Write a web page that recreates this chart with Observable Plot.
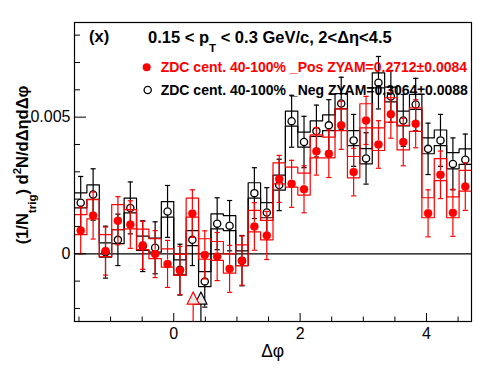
<!DOCTYPE html>
<html><head><meta charset="utf-8">
<script src="https://cdn.jsdelivr.net/npm/d3@7"></script>
<script src="https://cdn.jsdelivr.net/npm/@observablehq/plot@0.6"></script>
<style>html,body{margin:0;padding:0;background:#fff;} svg{display:block}</style>
</head><body><div id="chart"></div>
<script>
// ---- data ----
const dphi = [-1.4726,-1.2763,-1.0799,-0.8836,-0.6872,-0.4909,-0.2945,-0.0982,0.0982,0.2945,0.4909,0.6872,0.8836,1.0799,1.2763,1.4726,1.6690,1.8653,2.0617,2.2580,2.4544,2.6507,2.8471,3.0434,3.2398,3.4361,3.6325,3.8288,4.0252,4.2215,4.4179,4.6142];
const binHalfWidth = 0.098175;

const posY     = [0.00085,0.00140,0.00010,0.00121,0.00107,0.00031,-0.00001,-0.00037,-0.00061,0.00147,-0.00004,-0.00010,-0.00055,-0.00025,0.00100,0.00067,0.00274,0.00256,0.00236,0.00375,0.00366,0.00470,0.00299,0.00488,0.00400,0.00511,0.00409,0.00476,0.00148,0.00289,0.00150,0.00246];
const posErr   = [0.00085,0.00086,0.00088,0.00088,0.00087,0.00088,0.00086,0.00086,0.00088,0.00087,0.00088,0.00088,0.00086,0.00090,0.00087,0.00088,0.00086,0.00086,0.00086,0.00087,0.00087,0.00088,0.00087,0.00088,0.00087,0.00088,0.00087,0.00088,0.00086,0.00087,0.00086,0.00087];
const posSysHi = [0.00143,0.00198,0.00070,0.00180,0.00162,0.00090,0.00055,0.00018,-0.00002,0.00204,0.00055,0.00045,0.00000,0.00033,0.00159,0.00122,0.00333,0.00317,0.00295,0.00435,0.00427,0.00530,0.00356,0.00549,0.00461,0.00571,0.00470,0.00534,0.00205,0.00348,0.00208,0.00305];
const posSysLo = [0.00070,0.00128,-0.00010,0.00088,0.00091,0.00015,-0.00018,-0.00049,-0.00079,0.00134,-0.00020,-0.00024,-0.00071,-0.00043,0.00080,0.00051,0.00256,0.00244,0.00215,0.00351,0.00351,0.00451,0.00278,0.00461,0.00378,0.00482,0.00380,0.00448,0.00132,0.00268,0.00132,0.00229];

const negY     = [0.00187,0.00217,0.00006,0.00051,0.00168,0.00028,0.00022,0.00155,-0.00058,0.00051,-0.00101,0.00110,0.00103,-0.00025,0.00222,0.00151,0.00252,0.00485,0.00409,0.00449,0.00470,0.00550,0.00415,0.00349,0.00626,0.00576,0.00488,0.00546,0.00384,0.00415,0.00329,0.00344];
const negErr   = [0.00096,0.00094,0.00095,0.00094,0.00095,0.00093,0.00095,0.00095,0.00093,0.00094,0.00094,0.00095,0.00092,0.00092,0.00093,0.00091,0.00094,0.00095,0.00094,0.00095,0.00094,0.00096,0.00095,0.00094,0.00096,0.00095,0.00095,0.00096,0.00094,0.00095,0.00095,0.00094];
const negSysHi = [0.00223,0.00252,0.00040,0.00088,0.00204,0.00065,0.00057,0.00191,-0.00022,0.00085,-0.00065,0.00146,0.00140,0.00011,0.00260,0.00187,0.00288,0.00522,0.00445,0.00486,0.00508,0.00586,0.00451,0.00385,0.00662,0.00610,0.00522,0.00583,0.00424,0.00453,0.00370,0.00384];
const negSysLo = [0.00168,0.00199,-0.00012,0.00037,0.00150,0.00012,0.00006,0.00134,-0.00077,0.00030,-0.00120,0.00091,0.00085,-0.00043,0.00204,0.00132,0.00233,0.00467,0.00390,0.00430,0.00451,0.00530,0.00396,0.00329,0.00607,0.00556,0.00468,0.00528,0.00366,0.00396,0.00311,0.00327];

// ZYAM minimum positions (triangle markers)
const zyamDphi  = [0.43, 0.307];   // [Neg, Pos]
const zyamLevel = [-0.00162, -0.00162];

// axis ranges and ticks
const xDomain = [-Math.PI / 2, 3 * Math.PI / 2];
const yDomain = [-0.002477, 0.008463];
const xMajor = [0, 2, 4];
const xMinor = [-1.5, -1, -0.5, 0.5, 1, 1.5, 2.5, 3, 3.5, 4.5];
const yMajor = [0, 0.005];
const yMinor = [-0.002, -0.001, 0.001, 0.002, 0.003, 0.004, 0.006, 0.007, 0.008];
const yTickLabels = ["0", "0.005"];
const xTickLabels = ["0", "2", "4"];

// ---- tables built from the arrays ----
const rows = (ys, errs) => dphi.map((x, i) => ({dphi: x, y: ys[i], err: errs[i]}));
const stepRows = (vals) => dphi.map((x, i) => ({x: x - binHalfWidth, y: vals[i]}))
  .concat([{x: dphi[dphi.length - 1] + binHalfWidth, y: vals[vals.length - 1]}]);
const posRows = rows(posY, posErr);
const negRows = rows(negY, negErr);

const capSym = {draw(ctx) { ctx.moveTo(-2.6, 0); ctx.lineTo(2.6, 0); }};
const triSym = {draw(ctx) { ctx.moveTo(0, -6); ctx.lineTo(6, 6); ctx.lineTo(-6, 6); ctx.closePath(); }};

function seriesMarks(data, hi, lo, color, markerR, filled) {
  return [
    Plot.line(stepRows(hi), {x: "x", y: "y", curve: "step-after", stroke: color, strokeWidth: 1.2}),
    Plot.line(stepRows(lo), {x: "x", y: "y", curve: "step-after", stroke: color, strokeWidth: 1.2}),
    Plot.ruleX(data, {x: "dphi", y1: d => d.y + d.err, y2: "y", insetBottom: markerR, stroke: color, strokeWidth: 1.2}),
    Plot.ruleX(data, {x: "dphi", y1: "y", y2: d => d.y - d.err, insetTop: markerR, stroke: color, strokeWidth: 1.2}),
    Plot.dot(data, {x: "dphi", y: d => d.y + d.err, symbol: capSym, stroke: color, fill: "none", strokeWidth: 1.2}),
    Plot.dot(data, {x: "dphi", y: d => d.y - d.err, symbol: capSym, stroke: color, fill: "none", strokeWidth: 1.2}),
    filled
      ? Plot.dot(data, {x: "dphi", y: "y", r: markerR, fill: color, stroke: color, strokeWidth: 0.5})
      : Plot.dot(data, {x: "dphi", y: "y", r: markerR, fill: "none", stroke: color, strokeWidth: 1.3})
  ];
}

const plotW = 496 - 74 - 25, plotH = 374 - 22 - 53;
const font = "'Liberation Sans', Arial, Helvetica, sans-serif";

const chart = Plot.plot({
  width: 496, height: 374,
  marginLeft: 74, marginRight: 25, marginTop: 22, marginBottom: 53,
  style: {fontFamily: font, background: "white", color: "black"},
  x: {domain: xDomain},
  y: {domain: yDomain},
  marks: [
    Plot.ruleY([0], {stroke: "black", strokeWidth: 1.2}),
    ...seriesMarks(negRows, negSysHi, negSysLo, "black", 3.6, false),
    ...seriesMarks(posRows, posSysHi, posSysLo, "#ff0000", 4, true),
    // ZYAM markers
    Plot.ruleX([0], {x: () => zyamDphi[0], y1: () => zyamLevel[0], y2: yDomain[0], stroke: "black", strokeWidth: 1.2}),
    Plot.dot([0], {x: () => zyamDphi[0], y: () => zyamLevel[0], symbol: triSym, stroke: "black", fill: "#eaeaea", strokeWidth: 1.2}),
    Plot.ruleX([0], {x: () => zyamDphi[1], y1: () => zyamLevel[1], y2: yDomain[0], stroke: "#ff0000", strokeWidth: 1.2}),
    Plot.dot([0], {x: () => zyamDphi[1], y: () => zyamLevel[1], symbol: triSym, stroke: "#ff0000", fill: "#eaeaea", strokeWidth: 1.2}),
    // inward ticks
    Plot.tickY(yMajor, {y: d => d, insetRight: plotW - 12, stroke: "black"}),
    Plot.tickY(yMinor, {y: d => d, insetRight: plotW - 6, stroke: "black"}),
    Plot.tickX(xMajor, {x: d => d, insetTop: plotH - 8, stroke: "black"}),
    Plot.tickX(xMinor, {x: d => d, insetTop: plotH - 4.5, stroke: "black"}),
    Plot.axisY(yMajor, {tickSize: 0, tickPadding: 4, tickFormat: (d, i) => yTickLabels[i], fontSize: 16, label: null}),
    Plot.axisX(xMajor, {tickSize: 0, tickPadding: 6, tickFormat: (d, i) => xTickLabels[i], fontSize: 16, label: null}),
    Plot.frame({stroke: "black", strokeWidth: 1.2})
  ]
});

// force axis tick-label font size
d3.select(chart).selectAll('[aria-label="y-axis tick label"], [aria-label="x-axis tick label"]')
  .attr("font-size", 16).selectAll("text").attr("font-size", 16);

// ---- texts with sub/superscripts ----
const svg = d3.select(chart);
const g = svg.append("g").attr("font-family", font);
function richText(opts, parts) {
  const t = g.append("text")
    .attr("x", opts.x ?? 0).attr("y", opts.y ?? 0)
    .attr("font-size", opts.size).attr("font-weight", opts.weight || "normal")
    .attr("fill", opts.fill || "black").attr("text-anchor", opts.anchor || "start");
  if (opts.transform) t.attr("transform", opts.transform);
  let shift = 0;
  parts.forEach(p => {
    const s = typeof p === "string" ? {t: p} : p;
    let target = 0, fs = opts.size;
    if (s.sub) { target = 0.5 * opts.size; fs = 0.7 * opts.size; }
    if (s.sup) { target = -0.42 * opts.size; fs = 0.7 * opts.size; }
    t.append("tspan").attr("dy", target - shift).attr("font-size", fs).text(s.t);
    shift = target;
  });
  return t;
}

richText({x: 89, y: 42.3, size: 16.5, weight: "bold"}, ["(x)"]);
richText({x: 148, y: 43.3, size: 16.5, weight: "bold"},
  ["0.15 < p", {t: "T", sub: true}, " < 0.3 GeV/c, 2<Δη<4.5"]);

// legend
g.append("circle").attr("cx", 146.7).attr("cy", 67.3).attr("r", 4).attr("fill", "#ff0000");
richText({x: 160.7, y: 72.3, size: 14, weight: "bold", fill: "#ff0000"},
  ["ZDC cent. 40-100% _Pos ZYAM=0.2712±0.0084"]);
g.append("circle").attr("cx", 147.7).attr("cy", 90).attr("r", 3.6).attr("fill", "none")
  .attr("stroke", "black").attr("stroke-width", 1.3);
richText({x: 160.7, y: 95, size: 14, weight: "bold"},
  ["ZDC cent. 40-100% _Neg ZYAM=0.3064±0.0088"]);

// axis titles
richText({size: 16.5, weight: "bold", anchor: "middle", transform: "translate(27.5,165) rotate(-90)"},
  ["(1/N", {t: "trig", sub: true}, ") d", {t: "2", sup: true}, "N/dΔηdΔφ"]);
richText({x: 272.7, y: 357, size: 17.5, anchor: "middle"}, ["Δφ"]);

document.getElementById("chart").appendChild(chart);
</script>
</body></html>
